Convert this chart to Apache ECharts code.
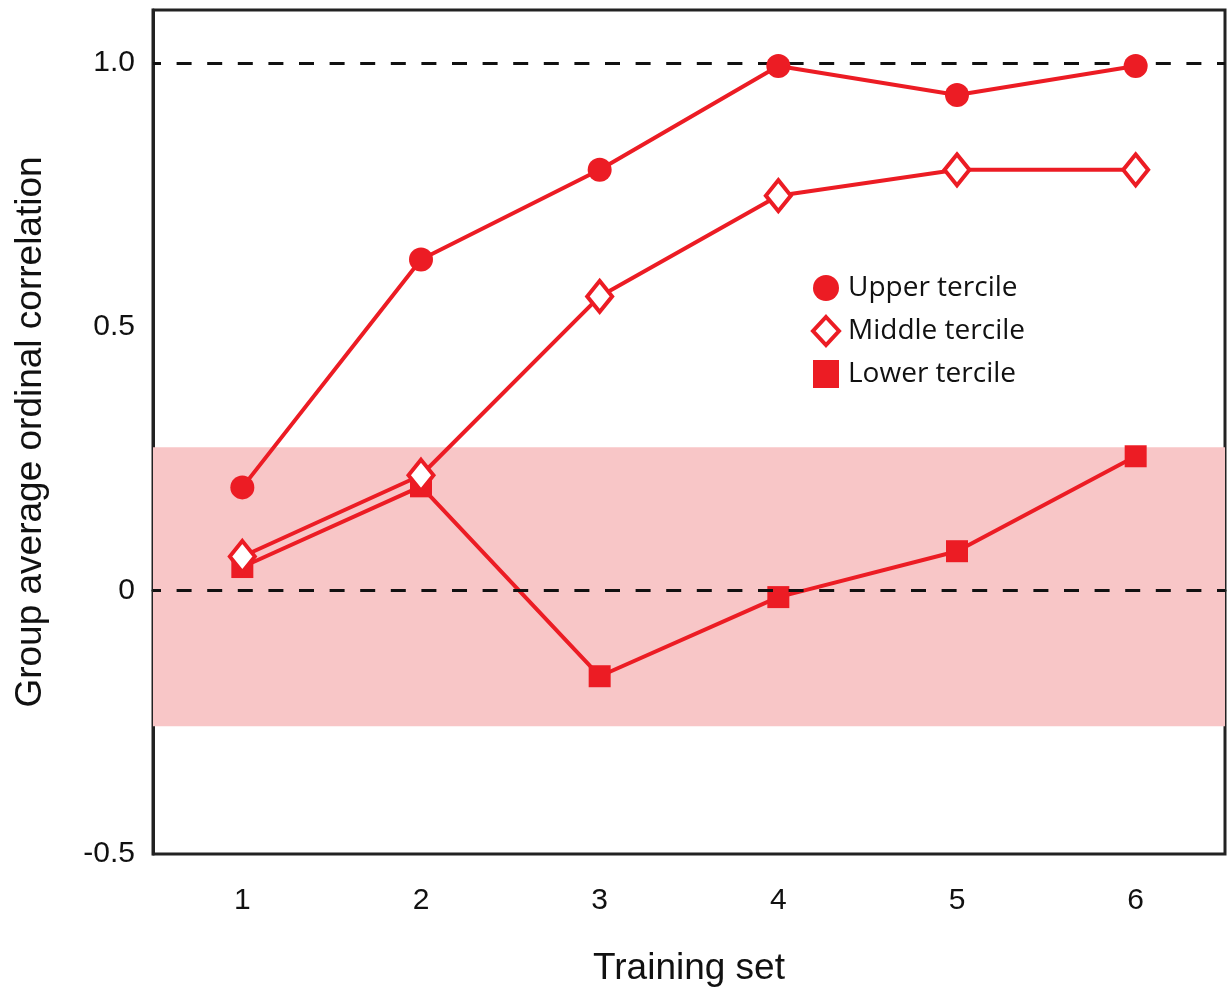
<!DOCTYPE html>
<html>
<head>
<meta charset="utf-8">
<script src="https://cdn.jsdelivr.net/npm/echarts@6/dist/echarts.min.js"></script>
<style>
html, body { margin: 0; padding: 0; background: #fff; }
#chart { width: 1230px; height: 989px; }
</style>
</head>
<body>
<div id="chart"></div>
<script>
// data
var trainingSets = ['1', '2', '3', '4', '5', '6'];
var upperTercile = [0.195, 0.627, 0.797, 0.994, 0.939, 0.994];
var middleTercile = [0.064, 0.218, 0.557, 0.748, 0.797, 0.797];
var lowerTercile = [0.044, 0.197, -0.163, -0.013, 0.074, 0.254];
var yTickLabels = { '-0.5': '-0.5', '0': '0', '0.5': '0.5', '1': '1.0' };
var chanceBand = [-0.258, 0.271];
var refLines = [0, 1];

var RED = '#ec1c24';
var FONT = '"Liberation Sans", Arial, Helvetica, sans-serif';
var LEGEND_FONT = '"Open Sans", "Noto Sans", sans-serif';

var chart = echarts.init(document.getElementById('chart'));

var option = {
	backgroundColor: '#fff',
	animation: false,
	textStyle: { fontFamily: FONT, color: '#111' },
	grid: {
		left: 153, top: 10, right: 5, bottom: 135,
		outerBoundsMode: 'none',
		containLabel: false,
		show: true, borderColor: '#222', borderWidth: 3, backgroundColor: 'transparent'
	},
	legend: {
		orient: 'vertical',
		left: 806, top: 269,
		itemWidth: 26, itemHeight: 28, itemGap: 13,
		textStyle: { fontFamily: LEGEND_FONT, fontSize: 28, color: '#111', padding: [0, 0, 0, 4] },
		data: [
			{ name: 'Upper tercile', icon: 'circle' },
			{ name: 'Middle tercile', icon: 'diamond', itemStyle: { borderWidth: 4 } },
			{ name: 'Lower tercile', icon: 'rect' }
		]
	},
	xAxis: {
		type: 'category',
		data: trainingSets,
		boundaryGap: true,
		name: 'Training set',
		nameLocation: 'middle',
		nameGap: 96,
		nameTextStyle: { fontFamily: FONT, fontSize: 37, color: '#111' },
		axisLine: { lineStyle: { color: '#222', width: 3 } },
		axisTick: { alignWithLabel: true, inside: true, length: 9, lineStyle: { color: '#222', width: 2 } },
		axisLabel: { fontFamily: FONT, fontSize: 30, color: '#111', margin: 32 },
		splitLine: { show: false }
	},
	yAxis: {
		type: 'value',
		min: -0.5, max: 1.1, interval: 0.5,
		name: 'Group average ordinal correlation',
		nameLocation: 'middle',
		nameGap: 104,
		nameTextStyle: { fontFamily: FONT, fontSize: 37, color: '#111' },
		axisLine: { show: true, lineStyle: { color: '#222', width: 3 } },
		axisTick: { inside: true, length: 9, lineStyle: { color: '#222', width: 2 } },
		axisLabel: {
			fontFamily: FONT, fontSize: 30, color: '#111', margin: 18,
			showMaxLabel: false,
			formatter: function (v) {
				var k = String(Math.round(v * 10) / 10);
				return yTickLabels[k] !== undefined ? yTickLabels[k] : '';
			}
		},
		splitLine: { show: false }
	},
	series: [
		{
			name: 'Lower tercile',
			type: 'line',
			data: lowerTercile,
			symbol: 'rect',
			symbolSize: 22,
			z: 3,
			lineStyle: { color: RED, width: 4 },
			itemStyle: { color: RED },
			markArea: {
				silent: true,
				itemStyle: { color: '#f8c6c7' },
				data: [[{ yAxis: chanceBand[0] }, { yAxis: chanceBand[1] }]]
			},
			markLine: {
				silent: true,
				symbol: 'none',
				label: { show: false },
				lineStyle: { color: '#111', width: 3, type: [15, 15.6], dashOffset: 7 },
				data: refLines.map(function (v) { return { yAxis: v }; })
			}
		},
		{
			name: 'Middle tercile',
			type: 'line',
			data: middleTercile,
			symbol: 'diamond',
			symbolSize: [25, 31],
			z: 4,
			lineStyle: { color: RED, width: 4 },
			itemStyle: { color: '#fff', borderColor: RED, borderWidth: 4 }
		},
		{
			name: 'Upper tercile',
			type: 'line',
			data: upperTercile,
			symbol: 'circle',
			symbolSize: 24,
			z: 5,
			lineStyle: { color: RED, width: 4 },
			itemStyle: { color: RED }
		}
	]
};

chart.setOption(option);
</script>
</body>
</html>
